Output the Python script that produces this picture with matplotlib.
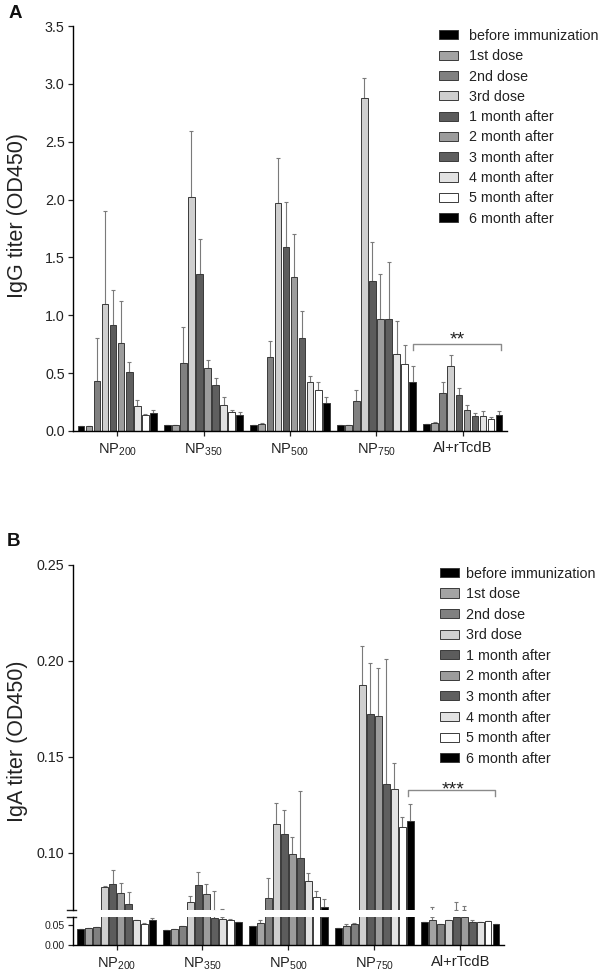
import matplotlib
matplotlib.use("Agg")
import matplotlib.pyplot as plt
import numpy as np

plt.rcParams['font.family'] = ['Liberation Sans', 'DejaVu Sans']
plt.rcParams['mathtext.default'] = 'regular'

groups = [r'NP$_{200}$', r'NP$_{350}$', r'NP$_{500}$', r'NP$_{750}$', 'Al+rTcdB']
series = ['before immunization', '1st dose', '2nd dose', '3rd dose', '1 month after',
          '2 month after', '3 month after', '4 month after', '5 month after', '6 month after']
colors = ['#000000', '#a3a3a3', '#808080', '#cfcfcf', '#5c5c5c',
          '#9c9c9c', '#5f5f5f', '#e2e2e2', '#ffffff', '#000000']

# Panel A: IgG (rows = groups, cols = series)
igg_mean = [
    [0.040, 0.040, 0.430, 1.100, 0.916, 0.760, 0.507, 0.220, 0.138, 0.158],
    [0.050, 0.050, 0.585, 2.025, 1.360, 0.547, 0.400, 0.225, 0.160, 0.140],
    [0.050, 0.060, 0.640, 1.970, 1.590, 1.330, 0.800, 0.420, 0.355, 0.240],
    [0.052, 0.055, 0.260, 2.875, 1.297, 0.970, 0.970, 0.666, 0.580, 0.426],
    [0.058, 0.072, 0.326, 0.560, 0.308, 0.184, 0.133, 0.133, 0.104, 0.141],
]
igg_err = [
    [0.000, 0.000, 0.370, 0.800, 0.300, 0.360, 0.090, 0.045, 0.012, 0.022],
    [0.000, 0.000, 0.315, 0.565, 0.300, 0.063, 0.060, 0.065, 0.020, 0.020],
    [0.000, 0.005, 0.140, 0.390, 0.390, 0.370, 0.240, 0.055, 0.065, 0.050],
    [0.000, 0.000, 0.095, 0.175, 0.333, 0.390, 0.490, 0.284, 0.160, 0.134],
    [0.000, 0.005, 0.100, 0.097, 0.062, 0.041, 0.020, 0.040, 0.020, 0.035],
]

# Panel B: IgA
iga_mean = [
    [0.0417, 0.0425, 0.0458, 0.0821, 0.0834, 0.0787, 0.0731, 0.0625, 0.0540, 0.0625],
    [0.0375, 0.0410, 0.0490, 0.0743, 0.0832, 0.0782, 0.0695, 0.0658, 0.0640, 0.0575],
    [0.0475, 0.0560, 0.0761, 0.1148, 0.1096, 0.0992, 0.0972, 0.0853, 0.0766, 0.0714],
    [0.0420, 0.0475, 0.0520, 0.1876, 0.1724, 0.1710, 0.1356, 0.1329, 0.1131, 0.1165],
    [0.0583, 0.0640, 0.0540, 0.0625, 0.0700, 0.0700, 0.0583, 0.0570, 0.0600, 0.0540],
]
iga_err = [
    [0.0000, 0.0000, 0.0000, 0.0005, 0.0074, 0.0055, 0.0064, 0.0010, 0.0010, 0.0065],
    [0.0000, 0.0000, 0.0000, 0.0032, 0.0066, 0.0052, 0.0105, 0.0047, 0.0010, 0.0000],
    [0.0000, 0.0080, 0.0107, 0.0108, 0.0124, 0.0090, 0.0349, 0.0042, 0.0031, 0.0041],
    [0.0000, 0.0050, 0.0030, 0.0199, 0.0264, 0.0254, 0.0655, 0.0138, 0.0055, 0.0087],
    [0.0000, 0.0077, 0.0000, 0.0000, 0.0043, 0.0020, 0.0060, 0.0000, 0.0000, 0.0000],
]

W, H = 603, 975
fig = plt.figure(figsize=(W / 100, H / 100), dpi=100)

def fx(px):
    return px / W

def fy(py):
    return 1 - py / H

pitch = 0.093
bw = 0.078
edge = '#3a3a3a'
ecol = '#7a7a7a'
x = np.arange(len(groups))


def draw_bars(ax, mean, err):
    mean = np.array(mean)
    err = np.array(err)
    handles = []
    for j in range(len(series)):
        xs = x + (j - 4.5) * pitch
        b = ax.bar(xs, mean[:, j], width=bw, color=colors[j], edgecolor=edge,
                   linewidth=0.7, zorder=2, label=series[j])
        handles.append(b)
        e = err[:, j]
        ax.errorbar(xs, mean[:, j], yerr=[np.zeros_like(e), e], fmt='none',
                    ecolor=ecol, elinewidth=0.8, capsize=1.5, capthick=0.8, zorder=1)
    return handles


def style_common(ax):
    for s in ['top', 'right']:
        ax.spines[s].set_visible(False)
    ax.spines['left'].set_linewidth(1.0)
    ax.spines['bottom'].set_linewidth(1.0)
    ax.tick_params(axis='both', direction='out', length=3.5, width=0.9,
                   labelsize=10.3, pad=2.5, colors='#222222', labelcolor='#222222')
    ax.set_xlim(-0.51, 4.51)


# ---------------- Panel A ----------------
axA = fig.add_axes([fx(73), fy(431), fx(507 - 73), (431 - 26) / H])
hA = draw_bars(axA, igg_mean, igg_err)
style_common(axA)
axA.set_ylim(0, 3.5)
axA.set_yticks(np.arange(0, 3.51, 0.5))
axA.set_yticklabels([f'{v:.1f}' for v in np.arange(0, 3.51, 0.5)])
axA.set_xticks(x)
axA.set_xticklabels(groups, fontsize=10.5)
axA.tick_params(axis='x', pad=4)

# significance bracket A
bk = '#8a8a8a'
axA.plot([3.42, 3.42, 4.44, 4.44], [0.70, 0.75, 0.75, 0.70], color=bk, lw=1.0,
         clip_on=False, zorder=3)
axA.text(3.93, 0.752, '**', ha='center', va='baseline', fontsize=14, color='#222222')

legA = axA.legend(handles=hA, loc='upper left', bbox_to_anchor=(fx(439), fy(29)),
                  bbox_transform=fig.transFigure, frameon=False, fontsize=10.3,
                  borderpad=0, borderaxespad=0, labelspacing=0.44,
                  handlelength=1.33, handleheight=0.6, handletextpad=0.75)
for t in legA.get_texts():
    t.set_color('#222222')

fig.text(fx(17.5), fy(216), 'IgG titer (OD450)', rotation=90, ha='center', va='center',
         fontsize=15.5, color='#222222')
fig.text(fx(15), fy(13), 'A', ha='center', va='center', fontsize=13.5,
         fontweight='bold', color='#111111')

# ---------------- Panel B ----------------
left_b, right_b = 72.7, 504
axBt = fig.add_axes([fx(left_b), fy(910), fx(right_b - left_b), (910 - 565) / H])
axBb = fig.add_axes([fx(left_b), fy(945), fx(right_b - left_b), (945 - 917) / H])

hB = draw_bars(axBt, iga_mean, iga_err)
draw_bars(axBb, iga_mean, iga_err)

style_common(axBt)
style_common(axBb)
axBt.set_ylim(0.07, 0.25)
axBb.set_ylim(0.0, 0.0708)
axBt.spines['bottom'].set_visible(False)
axBt.set_xticks([])
axBt.set_yticks([0.10, 0.15, 0.20, 0.25])
axBt.set_yticklabels(['0.10', '0.15', '0.20', '0.25'])
axBb.set_yticks([0.0, 0.05])
axBb.set_yticklabels(['0.00', '0.05'], fontsize=7.6)
axBb.tick_params(axis='y', pad=2)
axBb.set_xticks(x)
axBb.set_xticklabels(groups, fontsize=10.5)
axBb.tick_params(axis='x', pad=4)

# break marks on left spine
for ax, yv in [(axBt, 0.0), (axBb, 1.0)]:
    ax.plot([-0.013, 0.008], [yv, yv], transform=ax.transAxes, color='#222222',
            lw=1.0, clip_on=False)

axBt.plot([3.39, 3.39, 4.41, 4.41], [0.1294, 0.1325, 0.1325, 0.1294], color=bk, lw=1.0,
          clip_on=False, zorder=3)
axBt.text(3.92, 0.1305, '***', ha='center', va='baseline', fontsize=14, color='#222222')

legB = axBt.legend(handles=hB, loc='upper left', bbox_to_anchor=(fx(440), fy(566.5)),
                   bbox_transform=fig.transFigure, frameon=False, fontsize=10.3,
                   borderpad=0, borderaxespad=0, labelspacing=0.46,
                   handlelength=1.3, handleheight=0.6, handletextpad=0.55)
for t in legB.get_texts():
    t.set_color('#222222')

fig.text(fx(17.5), fy(741.7), 'IgA titer (OD450)', rotation=90, ha='center', va='center',
         fontsize=15.5, color='#222222')
fig.text(fx(14), fy(541), 'B', ha='center', va='center', fontsize=13.5,
         fontweight='bold', color='#111111')

fig.savefig('out.png', dpi=100)
